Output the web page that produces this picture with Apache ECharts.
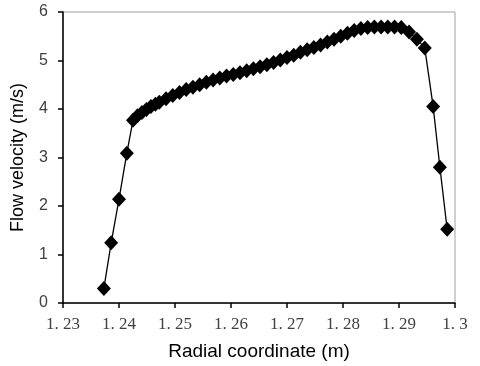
<!DOCTYPE html>
<html>
<head>
<meta charset="utf-8">
<script src="https://cdn.jsdelivr.net/npm/echarts@6/dist/echarts.min.js"></script>
<style>
    html,body{margin:0;padding:0;background:#fff;}
    #flow{width:480px;height:366px;}
</style>
</head>
<body>
<div id="flow"></div>
<script>
    // radial coordinate (m)
    var radius=[1.2373,1.2386,1.2400,1.2414,
        1.2425,1.2433,1.2441,1.2449,1.2457,1.2465,
        1.2472,1.2484,1.2496,1.2508,1.2520,1.2532,1.2544,1.2556,1.2568,1.2580,
        1.2592,1.2604,1.2616,1.2628,1.2640,1.2652,1.2664,1.2676,1.2688,1.2700,
        1.2712,1.2724,1.2736,1.2748,1.2760,1.2772,1.2784,1.2796,1.2808,1.2820,
        1.2832,1.2844,1.2856,1.2868,1.2880,1.2892,1.2904,
        1.2918,1.2932,1.2946,1.2961,1.2973,1.2986];
    // flow velocity (m/s)
    var velocity=[0.30,1.24,2.14,3.09,
        3.77,3.86,3.93,3.99,4.05,4.10,
        4.14,4.21,4.28,4.34,4.40,4.45,4.50,4.55,4.60,4.64,
        4.68,4.71,4.75,4.79,4.83,4.87,4.91,4.96,5.01,5.06,
        5.11,5.17,5.22,5.27,5.32,5.38,5.44,5.50,5.56,5.62,
        5.66,5.68,5.69,5.69,5.69,5.69,5.68,
        5.59,5.44,5.26,4.05,2.80,1.52];
    var xTickLabels=['1. 23','1. 24','1. 25','1. 26','1. 27','1. 28','1. 29','1. 3'];

    var points=radius.map(function(r,i){return [r,velocity[i]];});

    var chart=echarts.init(document.getElementById('flow'));
    chart.setOption({
        animation:false,
        grid:{
            left:63,right:25,top:12,bottom:63,
            show:true,
            borderColor:'#a0a0a0',
            borderWidth:1
        },
        xAxis:{
            type:'value',
            min:1.23,max:1.30,interval:0.01,
            name:'Radial coordinate (m)',
            nameLocation:'middle',
            nameGap:39,
            nameTextStyle:{fontFamily:'Liberation Sans',fontSize:19,color:'#000'},
            axisLine:{lineStyle:{color:'#000',width:1.5}},
            axisTick:{show:true,inside:false,length:5,lineStyle:{color:'#000',width:1.5}},
            splitLine:{show:false},
            axisLabel:{
                fontFamily:'Liberation Serif',fontSize:17,color:'#404040',margin:13,
                formatter:function(v){
                    return xTickLabels[Math.round((v-1.23)/0.01)];
                }
            }
        },
        yAxis:{
            type:'value',
            min:0,max:6,interval:1,
            name:'Flow velocity (m/s)',
            nameLocation:'middle',
            nameGap:36,
            nameTextStyle:{fontFamily:'Liberation Sans',fontSize:18,color:'#000'},
            axisLine:{show:true,lineStyle:{color:'#000',width:1.5}},
            axisTick:{show:true,inside:false,length:5,lineStyle:{color:'#000',width:1.5}},
            splitLine:{show:false},
            axisLabel:{fontFamily:'Liberation Sans',fontSize:16,color:'#404040',margin:15}
        },
        series:[{
            type:'line',
            data:points,
            symbol:'diamond',
            symbolSize:[14,15],
            showAllSymbol:true,
            lineStyle:{color:'#000',width:1.3},
            itemStyle:{color:'#000'}
        }]
    });
</script>
</body>
</html>
